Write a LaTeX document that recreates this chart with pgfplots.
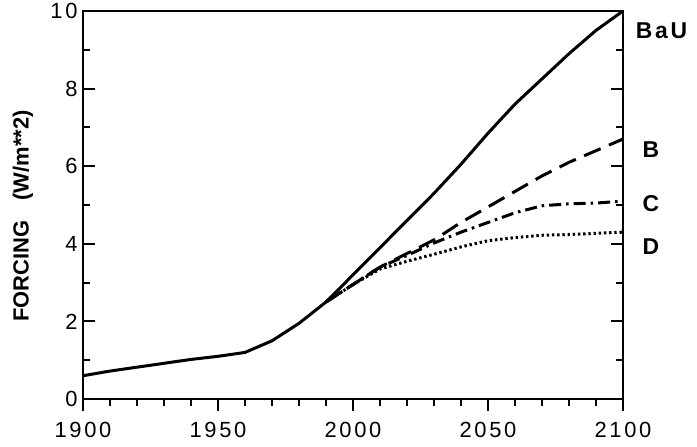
\documentclass[border=0pt]{standalone}
\usepackage{fontspec}
\setmainfont{Liberation Sans}
\newfontfamily\numfont{Liberation Sans}[LetterSpace=12]
\usepackage{pgfplots}
\pgfplotsset{compat=1.18}

\begin{document}
\begin{tikzpicture}
\begin{axis}[
    at={(0,0)}, anchor=south west,
    scale only axis,
    width=540bp, height=388bp,
    xmin=1900, xmax=2100,
    ymin=0, ymax=10,
    xtick={1900,1950,2000,2050,2100},
    minor x tick num=4,
    ytick={0,2,4,6,8,10},
    minor y tick num=1,
    xtick pos=left, ytick pos=both,
    xtick align=outside, ytick align=inside,
    major tick length=12bp, minor tick length=7bp,
    every tick/.style={line width=2bp, black},
    axis line style={line width=2.6bp},
    /pgf/number format/assume math mode=true,
    /pgf/number format/1000 sep={},
    x tick label style={font=\numfont\fontsize{22}{24}\selectfont, yshift=-8bp},
    y tick label style={font=\numfont\fontsize{22}{24}\selectfont, xshift=-2bp},
    clip=false,
  ]

  % BaU
  \addplot [line width=3bp] coordinates {
    (1900,0.6) (1910,0.72) (1920,0.82) (1930,0.92) (1940,1.02) (1950,1.1)
    (1960,1.2) (1970,1.5) (1980,1.95) (1990,2.5) (2000,3.2) (2010,3.9)
    (2020,4.6) (2030,5.3) (2040,6.05) (2050,6.85) (2060,7.6) (2070,8.25)
    (2080,8.9) (2090,9.5) (2100,10)
  };

  % B
  \addplot [line width=3bp, dash pattern=on 18bp off 9bp] coordinates {
    (1990,2.5) (2000,2.95) (2010,3.4) (2020,3.75) (2030,4.1) (2040,4.55)
    (2050,4.95) (2060,5.35) (2070,5.75) (2080,6.1) (2090,6.4) (2100,6.7)
  };

  % C
  \addplot [line width=3bp, dash pattern=on 12bp off 5bp on 2.5bp off 5bp] coordinates {
    (1990,2.5) (2000,2.95) (2010,3.4) (2020,3.7) (2030,4.02) (2040,4.3)
    (2050,4.55) (2060,4.8) (2070,4.98) (2080,5.03) (2090,5.05) (2100,5.1)
  };

  % D
  \addplot [line width=3bp, dash pattern=on 2.4bp off 2.8bp] coordinates {
    (1990,2.5) (2000,2.95) (2010,3.35) (2020,3.55) (2030,3.73) (2040,3.92)
    (2050,4.08) (2060,4.16) (2070,4.22) (2080,4.24) (2090,4.27) (2100,4.3)
  };

  \node[anchor=west, font=\numfont\bfseries\fontsize{23}{25}\selectfont]
    at (axis cs:2103.5,9.48) {BaU};
  \node[anchor=west, font=\bfseries\fontsize{23}{25}\selectfont]
    at (axis cs:2106,6.44) {B};
  \node[anchor=west, font=\bfseries\fontsize{23}{25}\selectfont]
    at (axis cs:2106,5.03) {C};
  \node[anchor=west, font=\bfseries\fontsize{23}{25}\selectfont]
    at (axis cs:2106,3.92) {D};
\end{axis}
\node[rotate=90, font=\bfseries\fontsize{22}{24}\selectfont]
  at (-60bp,183bp) {FORCING\hspace{20bp}(W/m**2)};
\pgfresetboundingbox
\path[use as bounding box] (-83bp,-48bp) rectangle (614bp,399bp);
\end{tikzpicture}
\end{document}
